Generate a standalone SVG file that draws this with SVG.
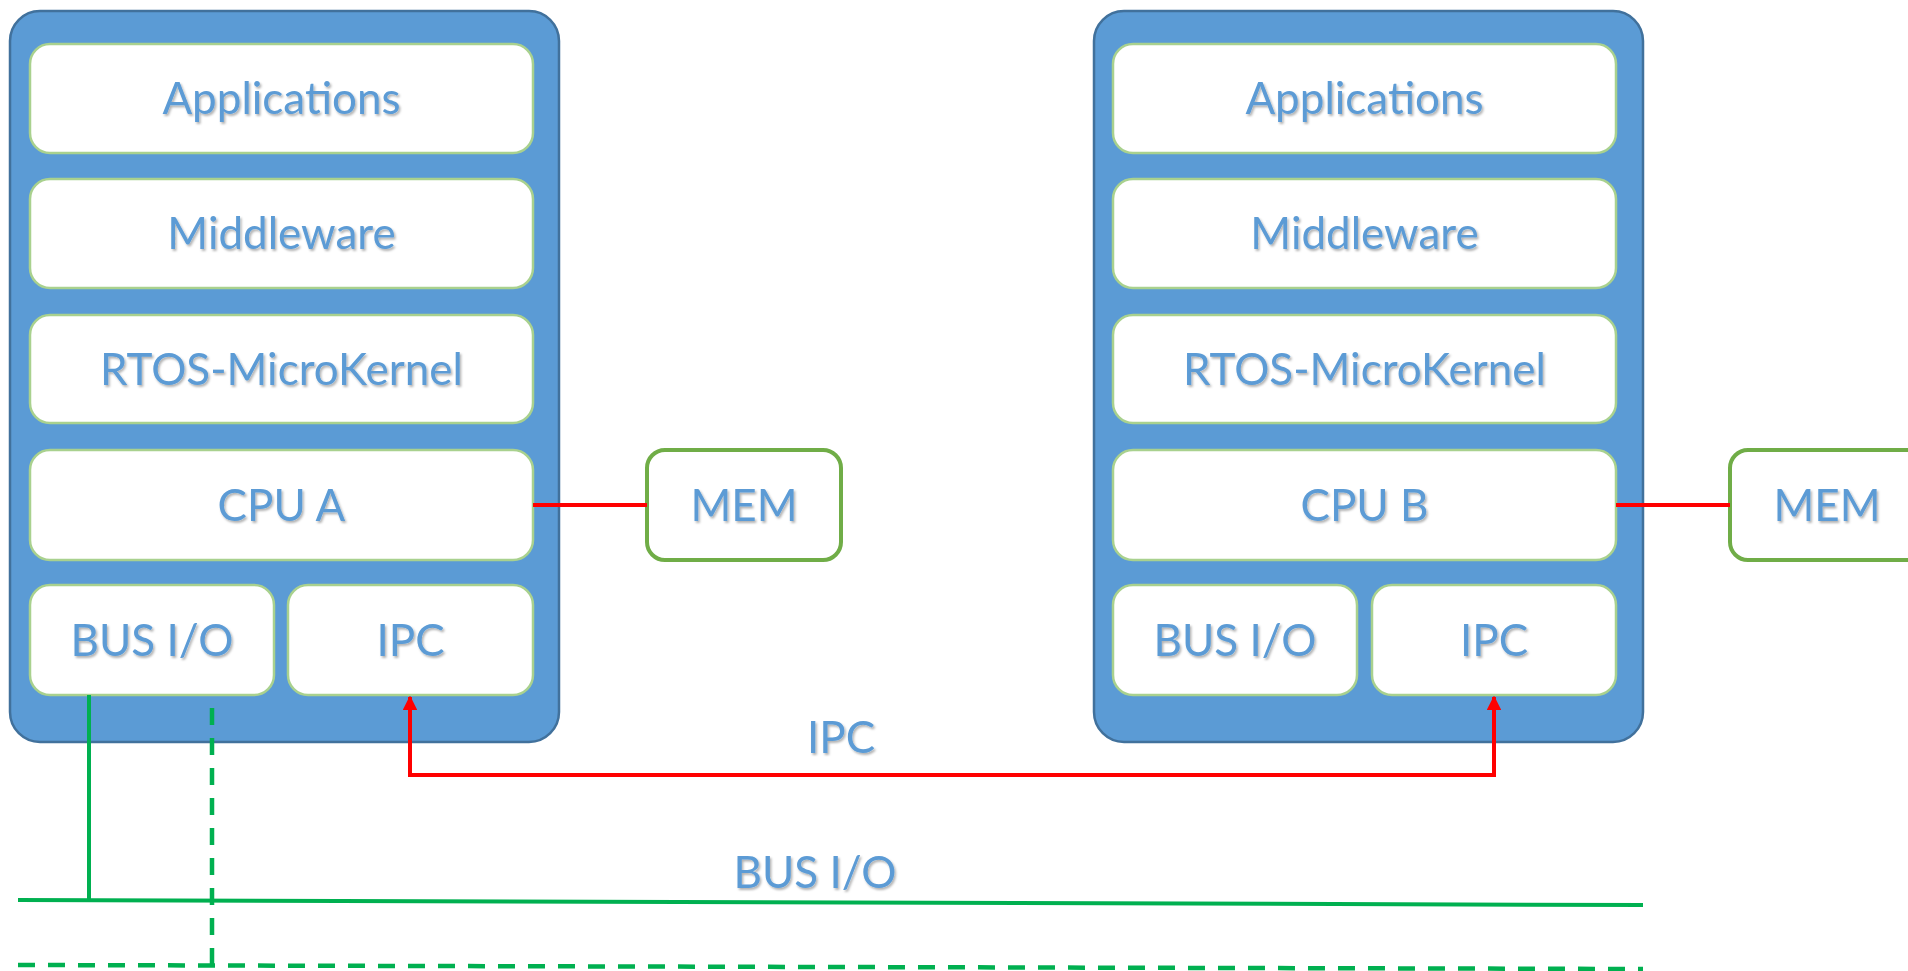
<svg xmlns="http://www.w3.org/2000/svg" width="1908" height="971" viewBox="0 0 1908 971">
<defs>
<filter id="sh" x="-10%" y="-30%" width="120%" height="160%">
<feDropShadow dx="1.5" dy="2" stdDeviation="1.2" flood-color="#000" flood-opacity="0.3"/>
</filter>
<marker id="arr" viewBox="0 0 10 10" refX="9" refY="5" markerWidth="3.6" markerHeight="3.6" markerUnits="strokeWidth" orient="auto">
<path d="M0,0 L10,5 L0,10 z" fill="#FF0000"/>
</marker>
</defs>
<style>
.outer{fill:#5B9BD5;stroke:#41719C;stroke-width:2.5}
.inner{fill:#FFFFFF;stroke:#A9D18E;stroke-width:2.5}
.mem{fill:#FFFFFF;stroke:#70AD47;stroke-width:4}
.t{font-family:Lato,"Liberation Sans",sans-serif;font-size:44px;fill:#5B9BD5;text-anchor:middle;filter:url(#sh)}
.red{stroke:#FF0000;stroke-width:4;fill:none}
.grn{stroke:#00B050;stroke-width:4;fill:none}
.dash{stroke:#00B050;stroke-width:4.5;fill:none;stroke-dasharray:17 13}
</style>
<rect width="1908" height="971" fill="#FFFFFF"/>

<g id="systemA">
<rect class="outer" x="10" y="11" width="549" height="731" rx="30"/>
<g id="appsA"><rect class="inner" x="30" y="44" width="503" height="109" rx="20"/><text class="t" x="281.5" y="114">Applications</text></g>
<g id="midA"><rect class="inner" x="30" y="179" width="503" height="109" rx="20"/><text class="t" x="281.5" y="249">Middleware</text></g>
<g id="rtosA"><rect class="inner" x="30" y="315" width="503" height="108" rx="20"/><text class="t" x="281.5" y="385">RTOS-MicroKernel</text></g>
<g id="cpuA"><rect class="inner" x="30" y="450" width="503" height="110" rx="20"/><text class="t" x="281.5" y="521">CPU A</text></g>
<g id="busA"><rect class="inner" x="30" y="585" width="244" height="110" rx="20"/><text class="t" x="152" y="656">BUS I/O</text></g>
<g id="ipcA"><rect class="inner" x="288" y="585" width="245" height="110" rx="20"/><text class="t" x="410.5" y="656">IPC</text></g>
</g>

<g id="memA"><rect class="mem" x="647" y="450" width="194" height="110" rx="18"/><text class="t" x="744" y="521">MEM</text></g>

<g id="systemB">
<rect class="outer" x="1094" y="11" width="549" height="731" rx="30"/>
<g id="appsB"><rect class="inner" x="1113" y="44" width="503" height="109" rx="20"/><text class="t" x="1364.5" y="114">Applications</text></g>
<g id="midB"><rect class="inner" x="1113" y="179" width="503" height="109" rx="20"/><text class="t" x="1364.5" y="249">Middleware</text></g>
<g id="rtosB"><rect class="inner" x="1113" y="315" width="503" height="108" rx="20"/><text class="t" x="1364.5" y="385">RTOS-MicroKernel</text></g>
<g id="cpuB"><rect class="inner" x="1113" y="450" width="503" height="110" rx="20"/><text class="t" x="1364.5" y="521">CPU B</text></g>
<g id="busB"><rect class="inner" x="1113" y="585" width="244" height="110" rx="20"/><text class="t" x="1235" y="656">BUS I/O</text></g>
<g id="ipcB"><rect class="inner" x="1372" y="585" width="244" height="110" rx="20"/><text class="t" x="1494" y="656">IPC</text></g>
</g>

<g id="memB"><rect class="mem" x="1730" y="450" width="194" height="110" rx="18"/><text class="t" x="1827" y="521">MEM</text></g>

<g id="connectors">
<line class="red" x1="533" y1="505" x2="647" y2="505"/>
<line class="red" x1="1616" y1="505" x2="1730" y2="505"/>
<path class="red" d="M1494,775 L410,775 L410,697" marker-end="url(#arr)"/>
<path class="red" d="M410,775 L1494,775 L1494,697" marker-end="url(#arr)"/>
<line class="grn" x1="89" y1="695" x2="89" y2="901"/>
<line class="grn" x1="18" y1="900" x2="1643" y2="905"/>
<line class="dash" x1="212" y1="708" x2="212" y2="966"/>
<line class="dash" x1="18" y1="965" x2="1643" y2="969"/>
<text class="t" x="841" y="753">IPC</text>
<text class="t" x="815" y="888">BUS I/O</text>
</g>
</svg>
